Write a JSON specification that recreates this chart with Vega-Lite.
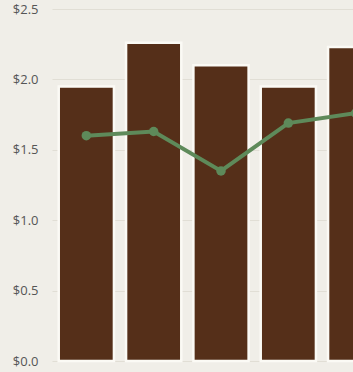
{
  "$schema": "https://vega.github.io/schema/vega-lite/v6.json",
  "autosize": "none",
  "padding": {"left": 52, "top": 9, "right": 0, "bottom": 11},
  "width": 338,
  "height": 352,
  "background": "#f0eee8",
  "config": {"view": {"stroke": null}},
  "data": {"values": [
    {"period": "P1", "bar": 1.95, "line": 1.60},
    {"period": "P2", "bar": 2.26, "line": 1.63},
    {"period": "P3", "bar": 2.10, "line": 1.35},
    {"period": "P4", "bar": 1.95, "line": 1.69},
    {"period": "P5", "bar": 2.23, "line": 1.76}
  ]},
  "encoding": {
    "x": {"field": "period", "type": "nominal", "sort": null, "axis": null,
          "scale": {"paddingInner": 0.18, "paddingOuter": 0.1}}
  },
  "layer": [
    {
      "mark": {"type": "bar", "color": "#552f19", "stroke": "#fbfaf5", "strokeWidth": 2.5},
      "encoding": {
        "y": {"field": "bar", "type": "quantitative",
              "scale": {"domain": [0, 2.5], "nice": false},
              "axis": {"values": [0, 0.5, 1, 1.5, 2, 2.5], "format": "$.1f", "title": null,
                       "domain": false, "ticks": false, "labelPadding": 14,
                       "labelFont": "Open Sans", "labelFontSize": 13, "labelColor": "#555555",
                       "gridColor": "#e1ded5", "gridWidth": 1}}
      }
    },
    {
      "mark": {"type": "line", "color": "#5e8a5a", "strokeWidth": 4,
               "point": {"filled": true, "color": "#5e8a5a", "size": 90}},
      "encoding": {
        "y": {"field": "line", "type": "quantitative"}
      }
    }
  ]
}
